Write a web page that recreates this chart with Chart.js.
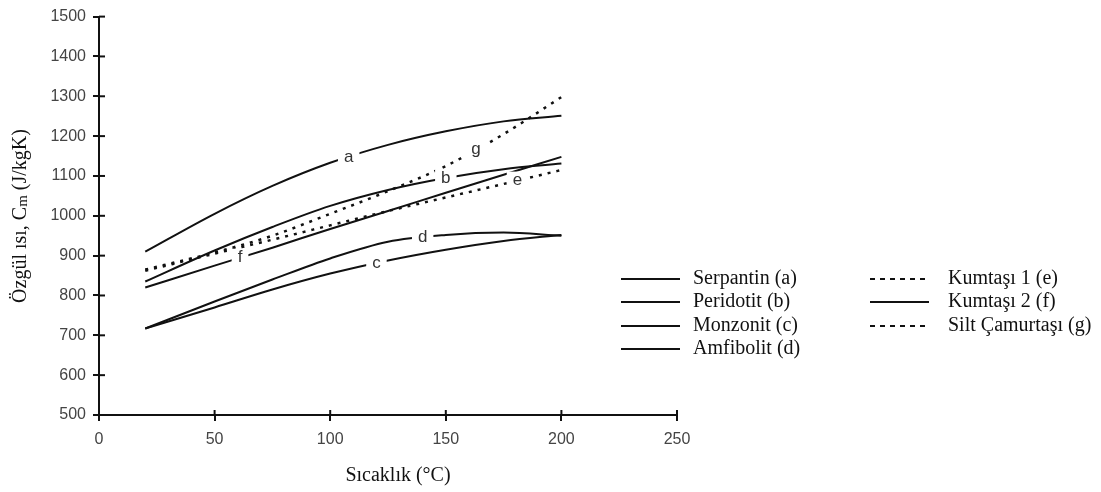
<!DOCTYPE html>
<html>
<head>
<meta charset="utf-8">
<script src="https://cdn.jsdelivr.net/npm/chart.js@4.4.1/dist/chart.umd.min.js"></script>
<style>
html,body{margin:0;padding:0;background:#fff;}
#wrap{width:1101px;height:492px;}
</style>
</head>
<body>
<div id="wrap"><canvas id="isiChart"></canvas></div>
<script>
// sıcaklık (°C) ve özgül ısı (J/kgK) değerleri
const sicaklik=[20,50,75,100,125,150,175,200];
const serpantin=[910,1005,1075,1133,1178,1212,1237,1251];
const peridotit=[835,913,972,1025,1065,1095,1117,1131];
const monzonit=[717,770,815,855,888,915,937,952];
const amfibolit=[717,785,840,893,935,952,958,950];
const kumtasi1=[862,905,940,976,1012,1046,1080,1115];
const kumtasi2=[820,875,920,967,1012,1058,1103,1148];
const siltCamurtasi=[865,908,950,1005,1062,1125,1205,1298];

const seriAdlari=["Serpantin (a)","Peridotit (b)","Monzonit (c)","Amfibolit (d)","Kumtaşı 1 (e)","Kumtaşı 2 (f)","Silt Çamurtaşı (g)"];
const harfler=["a","b","c","d","e","f","g"];
const harfX=[108,150,120,140,181,61,163];
const xTicks=[0,50,100,150,200,250];
const yTicks=[500,600,700,800,900,1000,1100,1200,1300,1400,1500];

const seriler=[serpantin,peridotit,monzonit,amfibolit,kumtasi1,kumtasi2,siltCamurtasi];
const kesikli=[false,false,false,false,true,false,true];

const datasets=seriler.map((s,i)=>({
  label:seriAdlari[i],
  data:s.map((v,j)=>({x:sicaklik[j],y:v})),
  borderColor:"#111",
  borderWidth:kesikli[i]?2.5:2,
  borderDash:kesikli[i]?[3,6]:[],
  pointRadius:0,
  fill:false,
  cubicInterpolationMode:'monotone'
}));

function araDeger(s,x){
  for(let j=0;j<sicaklik.length-1;j++){
    if(x>=sicaklik[j]&&x<=sicaklik[j+1]){
      const t=(x-sicaklik[j])/(sicaklik[j+1]-sicaklik[j]);
      return s[j]+t*(s[j+1]-s[j]);
    }
  }
  return s[s.length-1];
}

// eğri üstündeki harfler (çizgide boşluk bırakarak)
const harfPlugin={
  id:'harfler',
  afterDatasetsDraw(chart){
    const ctx=chart.ctx, xs=chart.scales.x, ys=chart.scales.y;
    ctx.save();
    ctx.font='17px "Liberation Sans", Arial, sans-serif';
    ctx.textAlign='center';
    ctx.textBaseline='middle';
    seriler.forEach((s,i)=>{
      const px=xs.getPixelForValue(harfX[i]);
      const py=ys.getPixelForValue(araDeger(s,harfX[i]));
      const w=ctx.measureText(harfler[i]).width+12;
      ctx.fillStyle='#fff';
      ctx.fillRect(px-w/2,py-9,w,18);
      ctx.fillStyle='#333';
      ctx.fillText(harfler[i],px,py);
    });
    ctx.restore();
  }
};

// eksen çizgilerini kesen tik işaretleri, başlıklar ve gösterge
const eksenPlugin={
  id:'eksen',
  afterDraw(chart){
    const ctx=chart.ctx, xs=chart.scales.x, ys=chart.scales.y, a=chart.chartArea;
    ctx.save();
    ctx.strokeStyle='#111';
    ctx.lineWidth=2;
    xTicks.forEach(v=>{
      const px=xs.getPixelForValue(v);
      ctx.beginPath();ctx.moveTo(px,a.bottom);ctx.lineTo(px,a.bottom-5);ctx.stroke();
    });
    yTicks.forEach(v=>{
      const py=ys.getPixelForValue(v);
      ctx.beginPath();ctx.moveTo(a.left,py);ctx.lineTo(a.left+6,py);ctx.stroke();
    });

    // x başlığı
    ctx.fillStyle='#111';
    ctx.font='20px "Liberation Serif", "Times New Roman", serif';
    ctx.textAlign='center';
    ctx.textBaseline='middle';
    ctx.fillText('Sıcaklık (°C)',398,476);

    // y başlığı (alt indisli C_m)
    ctx.translate(21,216);
    ctx.rotate(-Math.PI/2);
    const f1='20px "Liberation Serif", "Times New Roman", serif';
    const f2='15px "Liberation Serif", "Times New Roman", serif';
    const p1='Özgül ısı, C', p2='m', p3=' (J/kgK)';
    ctx.font=f1; const w1=ctx.measureText(p1).width, w3=ctx.measureText(p3).width;
    ctx.font=f2; const w2=ctx.measureText(p2).width;
    let x0=-(w1+w2+w3)/2;
    ctx.textAlign='left';
    ctx.font=f1; ctx.fillText(p1,x0,0);
    ctx.font=f2; ctx.fillText(p2,x0+w1,2);
    ctx.font=f1; ctx.fillText(p3,x0+w1+w2,0);
    ctx.restore();

    // gösterge
    ctx.save();
    ctx.font='20px "Liberation Serif", "Times New Roman", serif';
    ctx.textBaseline='middle';
    ctx.textAlign='left';
    const satirlar=[279,302,326,349];
    chart.data.datasets.forEach((ds,i)=>{
      const sutun=i<4?0:1;
      const satir=i<4?i:i-4;
      const lx=sutun===0?621:870;
      const tx=sutun===0?693:948;
      const y=satirlar[satir];
      ctx.strokeStyle='#111';
      ctx.lineWidth=2;
      ctx.setLineDash(kesikli[i]?[5,5]:[]);
      ctx.beginPath();ctx.moveTo(lx,y);ctx.lineTo(lx+59,y);ctx.stroke();
      ctx.setLineDash([]);
      ctx.fillStyle='#111';
      ctx.fillText(ds.label,tx,y);
    });
    ctx.restore();
  }
};

new Chart(document.getElementById('isiChart'),{
  type:'line',
  data:{datasets:datasets},
  options:{
    responsive:true,
    maintainAspectRatio:false,
    animation:false,
    layout:{padding:{top:14,right:424,left:0,bottom:0}},
    plugins:{legend:{display:false},tooltip:{enabled:false}},
    scales:{
      x:{
        type:'linear',min:0,max:250,
        afterBuildTicks(s){s.ticks=xTicks.map(v=>({value:v}));},
        afterFit(s){s.height=77;},
        grid:{drawOnChartArea:false,drawTicks:true,tickLength:6,color:'#111',lineWidth:2},
        border:{color:'#111',width:2},
        ticks:{color:'#444',padding:9,font:{family:'"Liberation Sans", Arial, sans-serif',size:16},maxRotation:0,callback:v=>String(v)}
      },
      y:{
        type:'linear',min:500,max:1500,
        afterBuildTicks(s){s.ticks=yTicks.map(v=>({value:v}));},
        afterFit(s){s.width=99;},
        grid:{drawOnChartArea:false,drawTicks:true,tickLength:6,color:'#111',lineWidth:2},
        border:{color:'#111',width:2},
        ticks:{color:'#444',padding:7,font:{family:'"Liberation Sans", Arial, sans-serif',size:16},callback:v=>String(v)}
      }
    }
  },
  plugins:[harfPlugin,eksenPlugin]
});
</script>
</body>
</html>
